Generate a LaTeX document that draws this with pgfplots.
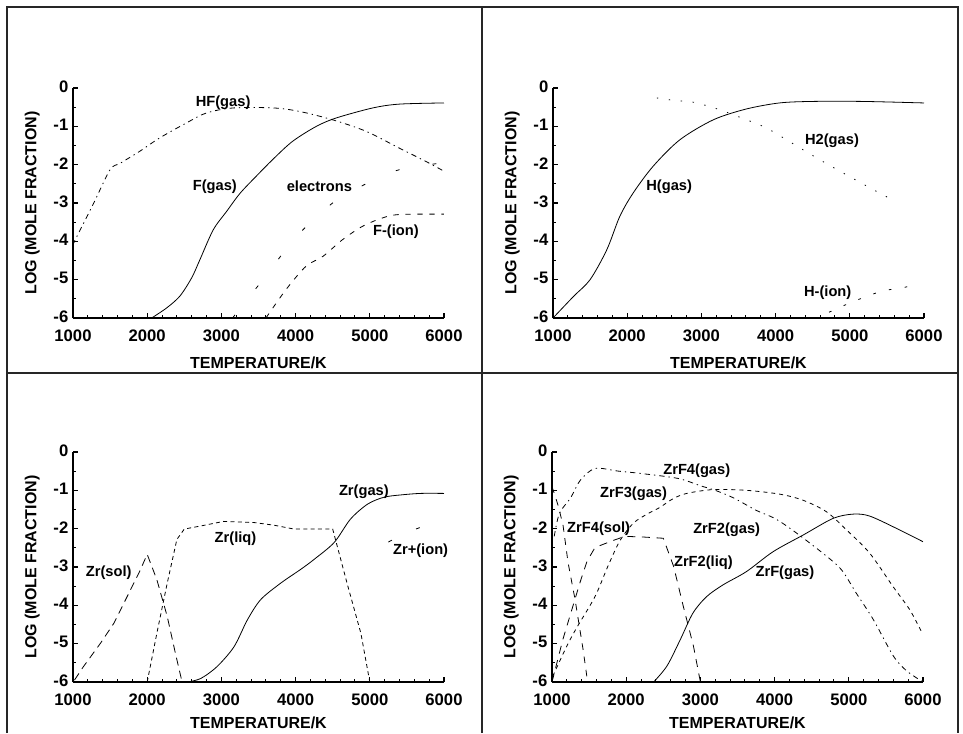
\documentclass[border=0pt]{standalone}
\usepackage{fontspec}
\setmainfont{Liberation Sans}
\usepackage{pgfplots}
\pgfplotsset{compat=1.18}

\pgfplotsset{
  panel/.style={
    scale only axis, width=278.25pt, height=172.5pt,
    xmin=1000, xmax=6000, ymin=-6, ymax=0,
    axis x line=bottom, axis y line=left,
    axis line style={line width=1.8pt, -},
    xtick={1000,2000,...,6000}, ytick={-6,-5,...,0},
    minor x tick num=4, minor y tick num=1,
    tick align=inside,
    major tick length=4pt, minor tick length=2pt,
    tick style={line width=0.8pt, black},
    /pgf/number format/assume math mode=true,
    /pgf/number format/1000 sep={},
    ticklabel style={font=\bfseries\fontsize{12.5}{12.5}\selectfont},
    xticklabel style={yshift=-5.5pt},
    yticklabel style={yshift=1pt},
    xlabel={TEMPERATURE/K}, ylabel={LOG (MOLE FRACTION)},
    label style={font=\bfseries\fontsize{12}{12}\selectfont},
    xlabel style={at={(axis description cs:0.5,-0.196)}, anchor=center},
    ylabel style={at={(axis description cs:-0.11,0.5)}, anchor=center},
    every axis plot/.append style={black, line width=0.6pt},
    clip=false,
  },
  lowrow/.style={xlabel style={at={(axis description cs:0.5,-0.178)}}},
}
\tikzset{lbl/.style={font=\bfseries\fontsize{11}{11}\selectfont, inner sep=0pt}}

\begin{document}
\begin{tikzpicture}[x=0.75pt,y=0.75pt]
\useasboundingbox (0,0) rectangle (963,733);
% panel frame
\draw[line width=1pt, black!85] (7,0) -- (7,726) -- (958,726) -- (958,0);
\draw[line width=1pt, black!85] (482,0) -- (482,726);
\draw[line width=1pt, black!85] (7,360) -- (958,360);

% ---- top left: HF / F ----
\begin{axis}[panel, at={(54.75pt,311.25pt)}, anchor=south west]
\addplot[smooth] coordinates {(2060,-6) (2260,-5.74) (2440,-5.43) (2600,-4.95) (2710,-4.48) (2890,-3.70) (3070,-3.22) (3250,-2.75) (3470,-2.30) (3700,-1.85) (3960,-1.39) (4280,-1.0) (4550,-0.78) (5040,-0.52) (5400,-0.42) (6000,-0.39)};
\addplot[smooth, dash pattern=on 4pt off 3pt on 1pt off 3pt] coordinates {(1000,-4.1) (1030,-3.96) (1280,-3.0) (1500,-2.13) (1640,-1.96) (1900,-1.65) (2170,-1.30) (2530,-0.91) (2800,-0.65) (3160,-0.52) (3700,-0.52) (4050,-0.61) (4500,-0.83) (4950,-1.13) (5400,-1.57) (5750,-1.91) (6000,-2.17)};
\addplot[smooth, dash pattern=on 4pt off 5pt] coordinates {(3600,-6) (3870,-5.26) (4140,-4.65) (4370,-4.39) (4630,-3.96) (4900,-3.61) (5170,-3.39) (5400,-3.30) (6000,-3.29)};
\addplot[smooth, dash pattern=on 3pt off 25pt] coordinates {(3150,-6) (3600,-4.9) (4000,-3.9) (4500,-3.0) (5000,-2.45) (5420,-2.12) (6000,-1.95)};
\node[lbl] at (axis cs:3023,-0.39) {HF(gas)};
\node[lbl] at (axis cs:2911,-2.57) {F(gas)};
\node[lbl] at (axis cs:4321,-2.57) {electrons};
\node[lbl] at (axis cs:5351,-3.74) {F-(ion)};
\end{axis}

% ---- top right: H ----
\begin{axis}[panel, at={(414.75pt,311.25pt)}, anchor=south west]
\addplot[smooth] coordinates {(1000,-6) (1280,-5.43) (1500,-5.0) (1725,-4.22) (1900,-3.35) (2080,-2.74) (2350,-2.04) (2710,-1.35) (3160,-0.83) (3600,-0.55) (4050,-0.39) (4500,-0.35) (5170,-0.35) (6000,-0.39)};
\addplot[smooth, dash pattern=on 1pt off 8pt] coordinates {(2400,-0.26) (2620,-0.32) (2890,-0.37) (3070,-0.46) (3310,-0.61) (3780,-0.96) (3940,-1.11) (4630,-1.91) (5400,-2.74) (5580,-2.91)};
\addplot[smooth, dash pattern=on 2pt off 10pt] coordinates {(4720,-5.85) (4950,-5.65) (5260,-5.41) (5480,-5.28) (5690,-5.22) (5820,-5.16)};
\node[lbl] at (axis cs:2566,-2.58) {H(gas)};
\node[lbl] at (axis cs:4760,-1.37) {H2(gas)};
\node[lbl] at (axis cs:4702,-5.35) {H-(ion)};
\end{axis}

% ---- bottom left: Zr ----
\begin{axis}[panel, lowrow, at={(54.75pt,38.25pt)}, anchor=south west]
\addplot[dash pattern=on 6pt off 4pt] coordinates {(1020,-5.95) (1140,-5.6) (1370,-4.99) (1550,-4.47) (1730,-3.77) (1890,-3.15) (2000,-2.67) (2130,-3.33) (2270,-4.29) (2380,-5.25) (2470,-6)};
\addplot[dash pattern=on 3pt off 2.5pt] coordinates {(2000,-6) (2130,-4.73) (2270,-3.42) (2400,-2.28) (2500,-2.01) (2720,-1.93) (3030,-1.81) (3440,-1.84) (3710,-1.91) (3980,-2.01) (4500,-2.01) (4700,-3.47) (4880,-4.73) (5000,-6)};
\addplot[smooth] coordinates {(2540,-6) (2720,-5.91) (2940,-5.6) (3170,-5.08) (3350,-4.38) (3530,-3.85) (3800,-3.42) (4070,-3.06) (4250,-2.80) (4520,-2.36) (4740,-1.75) (4970,-1.36) (5190,-1.18) (5415,-1.12) (5685,-1.08) (6000,-1.08)};
\addplot[smooth, dash pattern=on 3pt off 20pt] coordinates {(5250,-2.35) (5500,-2.1) (5870,-1.84) (6000,-1.78)};
\node[lbl] at (axis cs:1481,-3.15) {Zr(sol)};
\node[lbl] at (axis cs:3190,-2.26) {Zr(liq)};
\node[lbl] at (axis cs:4920,-1.03) {Zr(gas)};
\node[lbl] at (axis cs:5685,-2.58) {Zr+(ion)};
\end{axis}

% ---- bottom right: ZrFx ----
\begin{axis}[panel, lowrow, at={(414pt,38.25pt)}, anchor=south west]
\addplot[smooth] coordinates {(2370,-6) (2550,-5.58) (2730,-4.89) (2900,-4.20) (3085,-3.77) (3310,-3.46) (3620,-3.12) (3980,-2.60) (4390,-2.16) (4790,-1.73) (5060,-1.62) (5280,-1.67) (5640,-1.99) (6000,-2.34)};
\addplot[smooth, dash pattern=on 3pt off 3pt] coordinates {(1010,-5.85) (1200,-5.06) (1337,-4.57) (1580,-3.77) (1760,-2.95) (1920,-2.3) (2100,-1.85) (2300,-1.6) (2450,-1.45) (2630,-1.22) (2816,-1.08) (3175,-0.98) (3623,-1.0) (4071,-1.10) (4386,-1.26) (4700,-1.56) (4968,-2.03) (5282,-2.64) (5596,-3.51) (5820,-4.11) (5977,-4.68)};
\addplot[dash pattern=on 6pt off 5pt] coordinates {(1000,-6) (1148,-4.88) (1378,-3.40) (1472,-2.85) (1580,-2.49) (1849,-2.29) (1984,-2.2) (2250,-2.22) (2500,-2.25) (2640,-2.99) (2770,-4.03) (2906,-5.06) (3000,-6)};
\addplot[dash pattern=on 5pt off 5pt] coordinates {(1000,-0.9) (1080,-1.38) (1148,-1.9) (1216,-2.88) (1310,-3.84) (1418,-5.14) (1480,-6)};
\addplot[smooth, dash pattern=on 4pt off 3pt on 1pt off 3pt] coordinates {(1030,-2.2) (1100,-1.6) (1250,-1.2) (1380,-0.74) (1580,-0.43) (1900,-0.5) (2200,-0.56) (2700,-0.69) (3000,-0.88) (3200,-1.0) (3450,-1.2) (3750,-1.52) (4000,-1.73) (4250,-2.05) (4650,-2.64) (4900,-3.07) (5100,-3.68) (5330,-4.37) (5600,-5.32) (5780,-5.71) (6000,-6.0)};
\node[lbl] at (axis cs:2951,-0.49) {ZrF4(gas)};
\node[lbl] at (axis cs:2099,-1.08) {ZrF3(gas)};
\node[lbl] at (axis cs:1628,-1.99) {ZrF4(sol)};
\node[lbl] at (axis cs:3354,-2.02) {ZrF2(gas)};
\node[lbl] at (axis cs:3040,-2.9) {ZrF2(liq)};
\node[lbl] at (axis cs:4139,-3.16) {ZrF(gas)};
\end{axis}
\end{tikzpicture}
\end{document}
